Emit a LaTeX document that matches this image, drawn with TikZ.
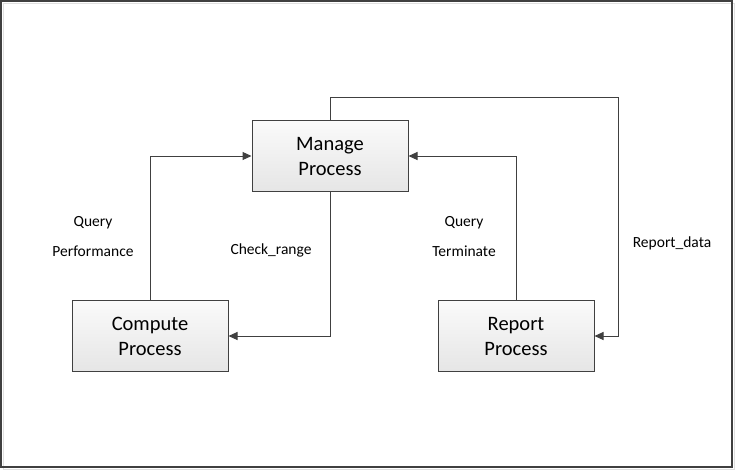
\documentclass[tikz,border=0pt]{standalone}
\usepackage{fontspec}
\setmainfont{Carlito}
\usetikzlibrary{arrows.meta}
\tikzstyle{process} = [rectangle, minimum width=156pt, minimum height=71pt, text centered, align=center, draw=black!75, line width=1pt, top color=black!2, bottom color=black!10, font=\fontsize{20.5}{25}\selectfont]
\tikzstyle{label} = [align=center, font=\fontsize{15.5}{30}\selectfont]
\tikzstyle{arrow} = [draw=black!75, line width=1pt, -{Triangle[length=9pt, width=8pt]}]

\begin{document}
\begin{tikzpicture}[x=1pt, y=-1pt]
\useasboundingbox (0,0) rectangle (735,471);
\draw [black!12, line width=1pt] (3,3) rectangle (734,469);
\draw [black!75, line width=1.5pt] (1,1) rectangle (732,467);

\node (manage) [process] at (330,156) {Manage\\Process};
\node (compute) [process] at (150,336) {Compute\\Process};
\node (report) [process] at (516,336) {Report\\Process};
\coordinate (corner) at (618,97);

\draw [arrow] (compute.north) |- (manage.west);
\draw [arrow] (manage.south) |- (compute.east);
\draw [arrow] (report.north) |- (manage.east);
\draw [arrow] (manage.north) |- (corner) |- (report.east);

\node (qperf) [label] at (93,237) {Query\\Performance};
\node (check) [label] at (271,250) {Check\_range};
\node (qterm) [label] at (464,237) {Query\\Terminate};
\node (rdata) [label] at (672,243) {Report\_data};
\end{tikzpicture}
\end{document}
